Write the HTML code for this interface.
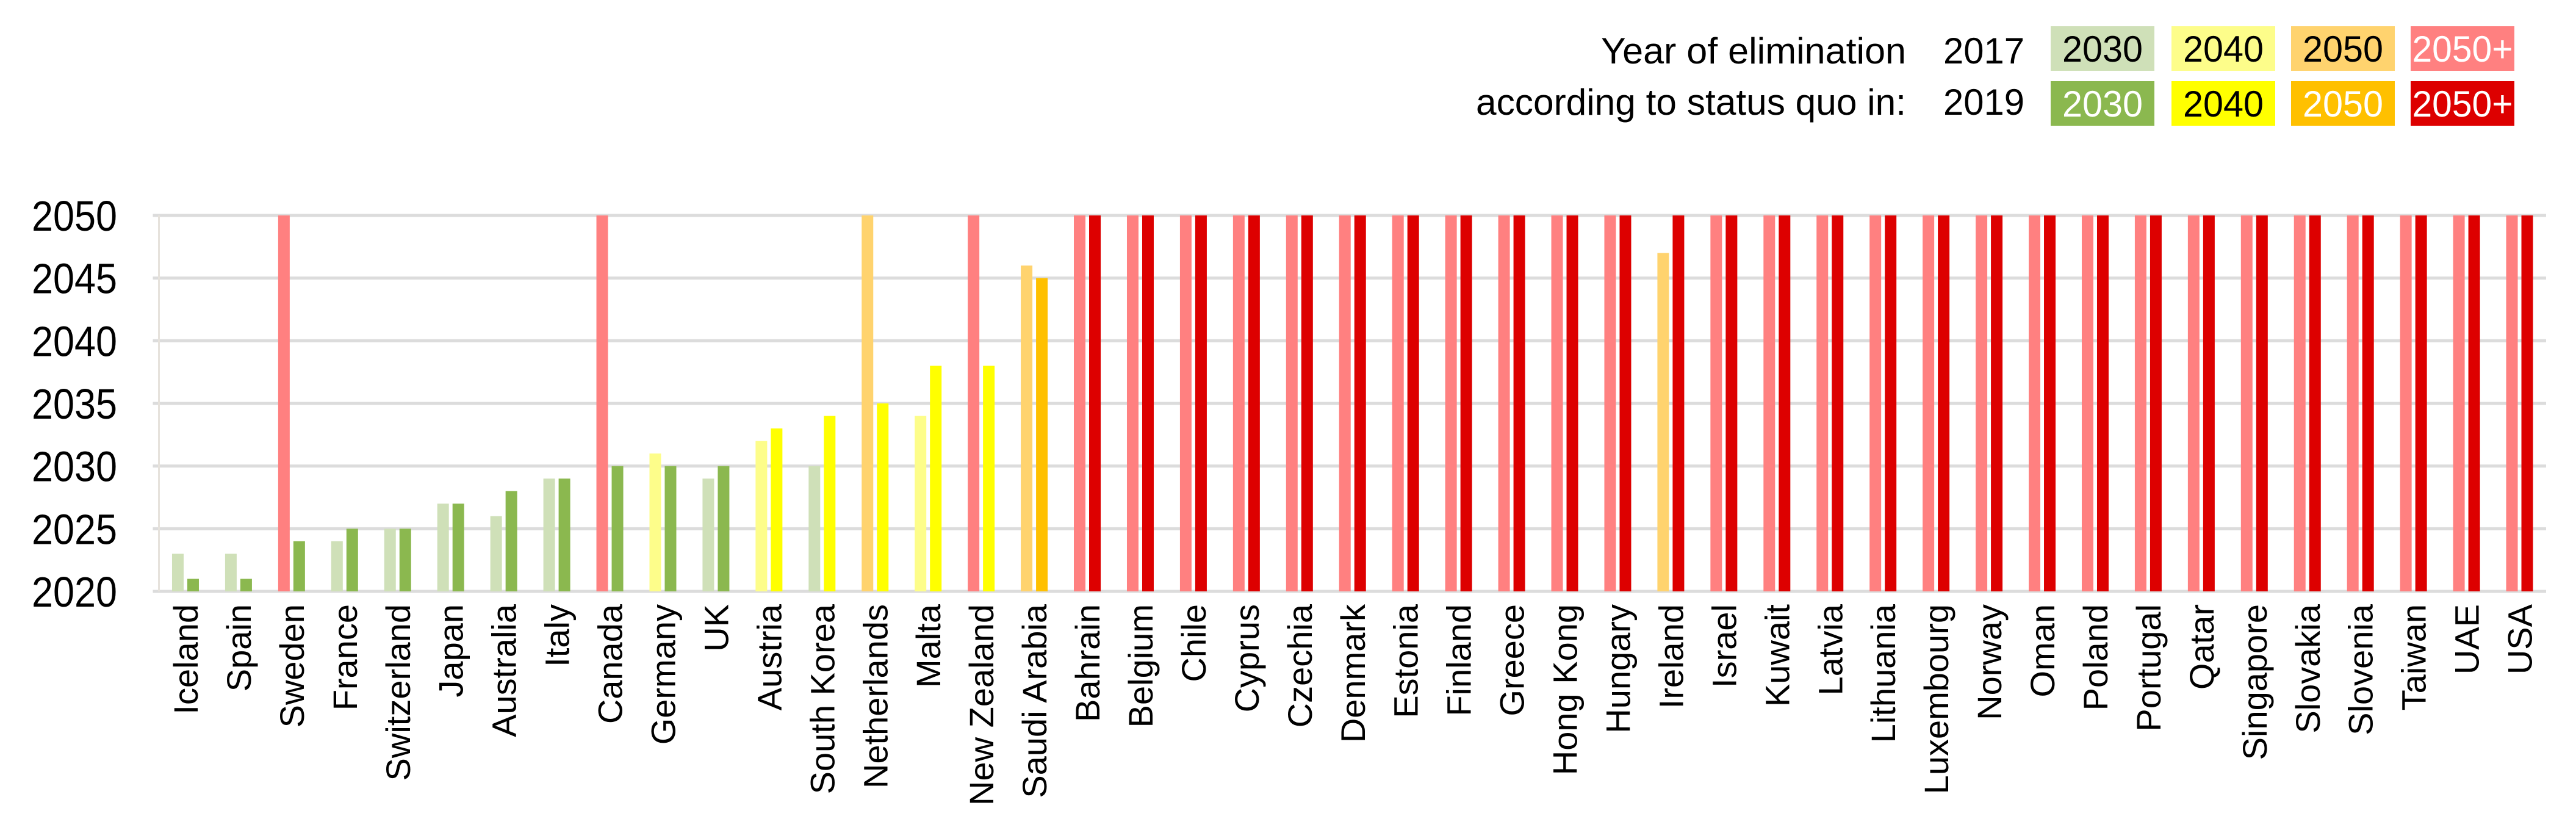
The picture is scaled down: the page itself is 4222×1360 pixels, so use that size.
<!DOCTYPE html>
<html><head><meta charset="utf-8"><style>
html,body{margin:0;padding:0;background:#fff}
svg{display:block;font-family:"Liberation Sans",sans-serif}
</style></head><body>
<svg id="chart" width="4222" height="1360" viewBox="0 0 4222 1360" xmlns="http://www.w3.org/2000/svg">
<g id="legend">
  <text x="3124" y="104" font-size="60" text-anchor="end" textLength="500" lengthAdjust="spacingAndGlyphs">Year of elimination</text>
  <text x="3124" y="188" font-size="60" text-anchor="end" textLength="705" lengthAdjust="spacingAndGlyphs">according to status quo in:</text>
  <text x="3318" y="104" font-size="60" text-anchor="end" textLength="133" lengthAdjust="spacingAndGlyphs">2017</text>
  <text x="3318" y="188" font-size="60" text-anchor="end" textLength="133" lengthAdjust="spacingAndGlyphs">2019</text>
</g>
<g id="grid"></g>
<g id="bars"></g>
<g id="xlabels"></g>
</svg>
<script>
const categories = ["Iceland","Spain","Sweden","France","Switzerland","Japan","Australia","Italy","Canada","Germany","UK","Austria","South Korea","Netherlands","Malta","New Zealand","Saudi Arabia","Bahrain","Belgium","Chile","Cyprus","Czechia","Denmark","Estonia","Finland","Greece","Hong Kong","Hungary","Ireland","Israel","Kuwait","Latvia","Lithuania","Luxembourg","Norway","Oman","Poland","Portugal","Qatar","Singapore","Slovakia","Slovenia","Taiwan","UAE","USA"];
// 2051 denotes "2050+" (drawn capped at 2050)
const values2017 = [2023,2023,2051,2024,2025,2027,2026,2029,2051,2031,2029,2032,2030,2050,2034,2051,2046,2051,2051,2051,2051,2051,2051,2051,2051,2051,2051,2051,2047,2051,2051,2051,2051,2051,2051,2051,2051,2051,2051,2051,2051,2051,2051,2051,2051];
const values2019 = [2021,2021,2024,2025,2025,2027,2028,2029,2030,2030,2030,2033,2034,2035,2038,2038,2045,2051,2051,2051,2051,2051,2051,2051,2051,2051,2051,2051,2051,2051,2051,2051,2051,2051,2051,2051,2051,2051,2051,2051,2051,2051,2051,2051,2051];
const yTicks = [2020,2025,2030,2035,2040,2045,2050];
const legendLabels = ["2030","2040","2050","2050+"];

const NS="http://www.w3.org/2000/svg";
const plotL=260.5, plotR=4173, yTop=353, yBot=969, yMin=2020, yMax=2050;
const bandW=(plotR-plotL)/categories.length;
function yScale(v){v=Math.min(v,yMax);return yBot-(v-yMin)/(yMax-yMin)*(yBot-yTop);}
function xCenter(i){return plotL+bandW*(i+0.5);}
const light=["#cfe0b8","#fdfd8a","#ffd36e","#ff8080"];
const dark=["#8bb84f","#ffff00","#ffc000","#dd0000"];
function cls(v){return v<=2030?0:v<=2040?1:v<=2050?2:3;}
function mk(tag,attrs,parent){const e=document.createElementNS(NS,tag);for(const k in attrs)e.setAttribute(k,attrs[k]);parent.appendChild(e);return e;}

const grid=document.getElementById('grid');
yTicks.forEach(t=>{
  const l=mk('line',{x1:plotL-10,x2:plotR,y1:yScale(t),y2:yScale(t),stroke:"#dcdcdc","stroke-width":5},grid);
  
  
  const tx=mk('text',{x:192,y:yScale(t)+25,"font-size":70,"text-anchor":"end",textLength:140,lengthAdjust:"spacingAndGlyphs"},grid);
  tx.textContent=t;
  
  
});
const ax=mk('line',{x1:plotL,x2:plotL,y1:yTop,y2:yBot,stroke:"#e6e2dc","stroke-width":3},grid);



const bars=document.getElementById('bars'), xl=document.getElementById('xlabels');
const bw=19, gap=6;
categories.forEach((c,i)=>{
  const cx=xCenter(i);
  const a=values2017[i], b=values2019[i];
  if(a!=null){
    const r=mk('rect',{x:cx-gap/2-bw,y:yScale(a),width:bw,height:yBot-yScale(a),fill:light[cls(a)]},bars);
    
    
  }
  if(b!=null){
    const r=mk('rect',{x:cx+gap/2,y:yScale(b),width:bw,height:yBot-yScale(b),fill:dark[cls(b)]},bars);
    
    
  }
  const t=mk('text',{x:0,y:0,"font-size":56,"text-anchor":"end",transform:`translate(${cx+20},990) rotate(-90)`},xl);
  t.textContent=c;
  
  
});

const lg=document.getElementById('legend');
const bx=[3361,3559,3755,3951], bwid=170;
legendLabels.forEach((lab,i)=>{
  [[43,light,i===3?"#fff":"#000"],[133,dark,(i===0||i>=2)?"#fff":"#000"]].forEach(([y,pal,tc],row)=>{
    const r=mk('rect',{x:bx[i],y:y,width:bwid,height:73,fill:pal[i]},lg);
    
    
    const t=mk('text',{x:bx[i]+bwid/2,y:y+58,"font-size":60,"text-anchor":"middle",fill:tc,textLength:lab.length*33,lengthAdjust:"spacingAndGlyphs"},lg);
    t.textContent=lab;
    
    
  });
});
</script>
</body></html>
